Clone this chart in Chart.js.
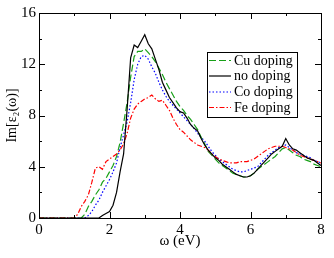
<!DOCTYPE html>
<html><head><meta charset="utf-8">
<script src="https://cdn.jsdelivr.net/npm/chart.js@4/dist/chart.umd.min.js"></script>
<style>html,body{margin:0;padding:0;background:#fff;}canvas{display:block}</style>
</head><body>
<canvas id="c" width="334" height="258"></canvas>
<script>
const omega = [0,0.1,0.2,0.3,0.4,0.5,0.6,0.7,0.8,0.9,1.0,1.1,1.2,1.3,1.4,1.5,1.6,1.7,1.8,1.9,2.0,2.1,2.2,2.3,2.4,2.5,2.6,2.7,2.8,2.9,3.0,3.1,3.2,3.3,3.4,3.5,3.6,3.7,3.8,3.9,4.0,4.1,4.2,4.3,4.4,4.5,4.6,4.7,4.8,4.9,5.0,5.1,5.2,5.3,5.4,5.5,5.6,5.7,5.8,5.9,6.0,6.1,6.2,6.3,6.4,6.5,6.6,6.7,6.8,6.9,7.0,7.1,7.2,7.3,7.4,7.5,7.6,7.7,7.8,7.9,8.0];

const cuDoping = [0,0,0,0,0,0,0,0,0,0,0,0,0,
  0.3,0.9,1.3,1.8,2.2,2.8,3.1,3.6,4.1,4.8,5.9,7.4,9.0,11.0,12.6,13.0,13.0,13.2,12.9,12.6,12.2,11.7,11.2,10.6,10.1,9.6,9.1,
  8.7,8.4,8.0,7.7,7.3,6.9,6.3,5.8,5.2,4.9,4.6,4.3,4.1,3.9,3.7,3.5,3.4,3.3,3.2,3.2,3.3,3.5,3.8,4.0,4.2,4.4,4.6,4.8,5.1,5.4,
  5.5,5.3,5.1,4.9,4.8,4.6,4.5,4.4,4.2,4.1,4.0];

const noDoping = [0,0,0,0,0,0,0,0,0,0,0,0,0,0,0,0,0,
  0,0.2,0.35,0.5,1.0,2.0,3.6,5.0,8.5,12.5,13.5,13.3,13.8,14.3,13.6,13.2,12.4,11.6,10.6,10.0,9.4,9.0,8.6,
  8.3,8.2,7.8,7.3,7.0,6.8,6.2,5.7,5.3,5.0,4.7,4.5,4.2,4.0,3.8,3.6,3.4,3.3,3.2,3.2,3.3,3.5,3.8,4.1,4.4,4.7,5.0,5.2,5.4,5.6,
  6.2,5.7,5.4,5.3,5.1,4.9,4.7,4.6,4.5,4.3,4.1];

const coDoping = [0,0,0,0,0,0,0,0,0,0,0,0,0,0,
  0.2,0.5,1.0,1.4,2.0,2.5,3.0,3.6,4.3,5.5,6.5,7.5,9.0,10.8,12.0,12.6,12.7,12.4,11.8,11.3,10.6,10.0,9.5,9.1,8.8,8.5,
  8.2,7.9,7.6,7.3,7.0,6.6,6.3,6.0,5.6,5.2,4.9,4.6,4.4,4.2,4.0,3.8,3.7,3.6,3.6,3.7,3.8,3.9,4.0,4.3,4.6,4.9,5.1,5.3,5.5,5.6,
  5.7,5.5,5.3,5.1,5.0,4.9,4.8,4.7,4.5,4.4,4.3];

const feDoping = [0,0,0,0,0,0,0,0,0,0,0,
  0.3,0.9,1.3,1.8,2.8,3.9,4.0,3.8,4.4,4.6,4.8,5.0,5.3,5.8,6.6,7.8,8.5,8.9,9.1,9.3,9.4,9.6,9.3,9.1,9.2,8.8,8.4,7.8,7.3,
  6.9,6.7,6.4,6.1,5.9,5.7,5.6,5.5,5.3,5.0,4.8,4.6,4.5,4.4,4.3,4.3,4.3,4.4,4.4,4.4,4.5,4.6,4.8,5.0,5.2,5.4,5.5,5.6,5.6,5.6,
  5.5,5.4,5.3,5.1,4.9,4.8,4.7,4.6,4.5,4.4,4.3];

const seriesNames = ['Cu doping','no doping','Co doping','Fe doping'];
const xTicks = [0,2,4,6,8];
const yTicks = [0,4,8,12,16];

const styles = [
  {color:'#18a018', dash:[7,3]},
  {color:'#000000', dash:[]},
  {color:'#0000ff', dash:[1.5,2]},
  {color:'#ff0000', dash:[5,2,1.5,2]}
];
const seriesValues = [cuDoping, noDoping, coDoping, feDoping];
const drawOrder = [2,0,3,1];

const datasets = seriesValues.map((vals,i)=>({
  label: seriesNames[i],
  data: omega.map((x,k)=>({x:x, y:vals[k]})),
  borderColor: styles[i].color,
  borderDash: styles[i].dash,
  borderWidth: 1.2,
  pointRadius: 0,
  fill: false,
  tension: 0,
  order: drawOrder[i]
}));

const SERIF = "'Liberation Serif','Times New Roman',serif";

const framePlugin = {
  id: 'frame',
  afterDatasetsDraw(chart) {
    const ctx = chart.ctx, a = chart.chartArea;
    const xs = chart.scales.x, ys = chart.scales.y;
    ctx.save();
    ctx.strokeStyle = '#000';
    ctx.lineWidth = 1;
    ctx.setLineDash([]);
    ctx.strokeRect(Math.round(a.left)+0.5, Math.round(a.top)+0.5, Math.round(a.right-a.left), Math.round(a.bottom-a.top));
    ctx.beginPath();
    for (let v = 0; v <= 8; v += 1) {
      const px = Math.round(xs.getPixelForValue(v)) + 0.5;
      const len = (v % 2 === 0) ? 6 : 3;
      ctx.moveTo(px, a.bottom); ctx.lineTo(px, a.bottom - len);
      ctx.moveTo(px, a.top); ctx.lineTo(px, a.top + len);
    }
    for (let v = 0; v <= 16; v += 2) {
      const py = Math.round(ys.getPixelForValue(v)) + 0.5;
      const len = (v % 4 === 0) ? 6 : 3;
      ctx.moveTo(a.left, py); ctx.lineTo(a.left + len, py);
      ctx.moveTo(a.right, py); ctx.lineTo(a.right - len, py);
    }
    ctx.stroke();

    // legend
    const bx = 207, by = 52, bw = 90, bh = 65;
    ctx.fillStyle = '#fff';
    ctx.fillRect(bx, by, bw, bh);
    ctx.strokeStyle = '#000';
    ctx.strokeRect(bx + 0.5, by + 0.5, bw, bh);
    ctx.font = "14px " + SERIF;
    ctx.textBaseline = 'middle';
    ctx.textAlign = 'left';
    const rows = [60, 75.5, 91.5, 107];
    seriesNames.forEach((name, i) => {
      const ry = rows[i];
      ctx.beginPath();
      ctx.strokeStyle = styles[i].color;
      ctx.lineWidth = 1.2;
      ctx.setLineDash(styles[i].dash);
      ctx.moveTo(209, ry + 0.5); ctx.lineTo(231, ry + 0.5);
      ctx.stroke();
      ctx.setLineDash([]);
      ctx.fillStyle = '#000';
      ctx.fillText(name, 234, ry + 1);
    });
    ctx.restore();
  }
};

new Chart(document.getElementById('c'), {
  type: 'line',
  data: { datasets },
  options: {
    responsive: false,
    devicePixelRatio: 1,
    animation: false,
    layout: { padding: { top: 13, right: 13, left: 0, bottom: 0 } },
    plugins: { legend: { display: false }, tooltip: { enabled: false } },
    scales: {
      x: {
        type: 'linear', min: 0, max: 8,
        afterBuildTicks(s) { s.ticks = xTicks.map(v => ({value: v})); },
        afterFit(s) { s.height = 40; },
        grid: { display: false, drawTicks: false },
        border: { display: false },
        ticks: { color: '#000', padding: 3, font: { family: SERIF, size: 15 }, maxRotation: 0 },
        title: { display: true, text: 'ω (eV)', color: '#000', font: { family: SERIF, size: 15 }, padding: { top: 0, bottom: 8 } }
      },
      y: {
        type: 'linear', min: 0, max: 16,
        afterBuildTicks(s) { s.ticks = yTicks.map(v => ({value: v})); },
        afterFit(s) { s.width = 39; },
        grid: { display: false, drawTicks: false },
        border: { display: false },
        ticks: { color: '#000', padding: 3, font: { family: SERIF, size: 15 } },
        title: { display: true, text: 'Im[ε₂(ω)]', color: '#000', font: { family: SERIF, size: 14 }, padding: { top: 4, bottom: 0 } }
      }
    }
  },
  plugins: [framePlugin]
});
</script>
</body></html>
